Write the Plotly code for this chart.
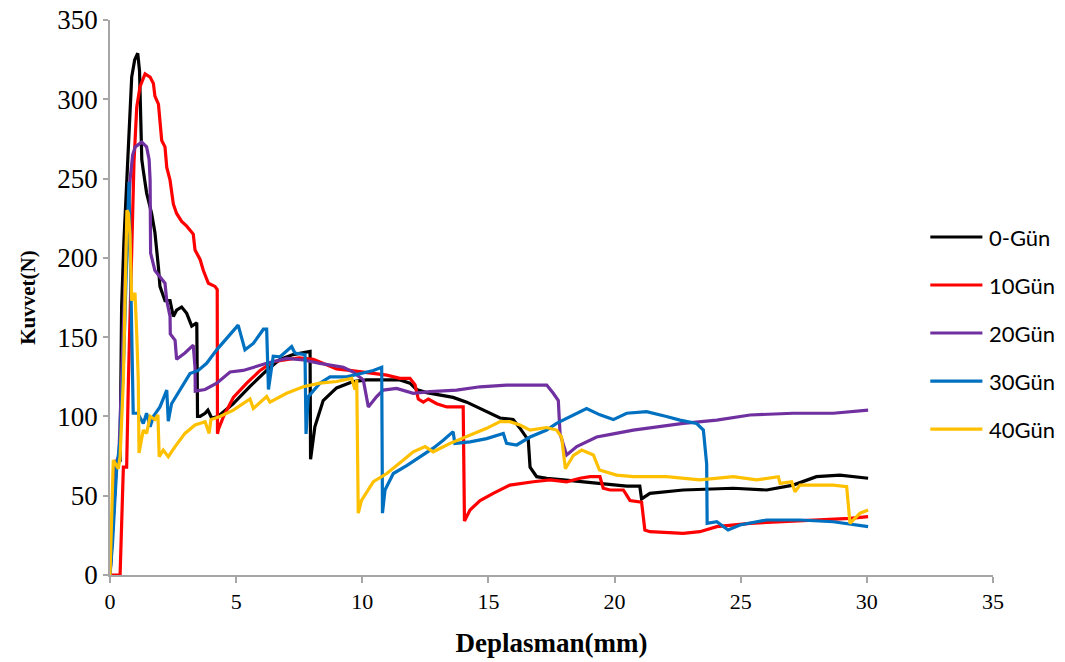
import plotly.graph_objects as go

# Data: (Deplasman mm, Kuvvet N)
gun0 = [(0,0),(0.15,40),(0.25,70),(0.4,72),(0.46,169),(0.55,210),(0.66,245),(0.76,285),(0.86,314),(0.98,325),
        (1.1,329),(1.17,318),(1.22,290),(1.26,262),(1.32,255),(1.39,245),(1.45,241),(1.65,228),(1.78,216),
        (1.92,194),(1.98,182),(2.18,173),(2.38,173),(2.51,163),(2.64,167),(2.84,169),(3.04,165),(3.24,157),
        (3.44,159),(3.47,100),(3.57,100),(3.77,102),(3.88,104),(4.03,99),(4.28,100),(4.88,108),(5.55,119),
        (6.21,129),(6.74,136),(7.26,139),(7.93,141),(7.95,73),(8.12,93.5),(8.45,110),(8.98,118),(9.64,122),
        (10.17,123),(10.97,123),(11.49,123),(11.89,121),(12.15,117),(12.55,115),(13.6,112),(14.14,109),
        (14.53,106),(15.19,101),(15.46,99),(15.98,98),(16.25,92.6),(16.58,85),(16.65,68),(16.91,62),
        (17.31,61),(17.97,60),(18.63,59),(19.29,58),(19.95,57),(20.48,56),(21.0,56),(21.07,48),(21.4,51.5),
        (22.72,53.6),(24.7,54.7),(26.03,53.6),(27.08,56.7),(28.0,62),(28.93,63),(30.05,61)]

gun10 = [(0,0),(0.13,0),(0.4,0),(0.53,68),(0.66,68),(0.73,123),(0.86,211),(0.95,260),(1.06,295),(1.19,308),
         (1.39,316),(1.59,314),(1.72,310),(1.78,302),(1.92,297),(1.98,287),(2.05,274),(2.18,270),(2.25,257),
         (2.38,249),(2.51,234),(2.64,228),(2.84,223),(3.04,220),(3.3,215),(3.37,205),(3.57,199),(3.7,192),
         (3.9,184),(4.16,182),(4.25,180),(4.26,89),(4.3,92),(4.5,100),(4.89,112),(5.42,121),(5.95,129),
         (6.47,134.5),(7.0,136),(7.5,137),(8.06,136),(8.5,133),(8.98,130),(9.5,129),(10.04,128),(10.97,126),
         (11.49,124),(11.89,124),(12.09,120),(12.22,111),(12.42,109),(12.62,111),(12.95,108),(13.35,106),
         (14.0,106),(14.05,34),(14.27,41),(14.67,47),(15.19,51.5),(15.85,56.7),(16.78,58.8),(17.44,60),
         (18.1,58.8),(18.63,61),(19.03,62),(19.42,62),(19.55,54.7),(19.82,53.6),(20.35,53.6),(20.61,47),
         (21.07,46),(21.2,28.4),(21.4,27.3),(22.72,26.3),(23.38,27.3),(24.05,30.5),(25.37,32.6),(26.69,33.6),
         (28.0,34.7),(29.33,35.7),(30.05,36.8)]

gun20 = [(0,0),(0.1,30),(0.26,72),(0.35,75),(0.5,140),(0.65,210),(0.8,250),(0.9,265),(1.0,270),(1.26,273),
         (1.45,270),(1.55,262),(1.59,249),(1.6,211),(1.61,203),(1.78,192),(1.98,188),(2.18,184),(2.25,173),
         (2.38,163),(2.39,152),(2.58,148),(2.64,136),(2.97,140),(3.3,145),(3.37,131),(3.38,116),(3.77,117),
         (4.23,121),(4.76,128),(5.28,129),(5.68,131),(6.21,133.5),(7.0,136.6),(7.66,135.6),(8.32,133.5),
         (9.25,131),(9.64,128),(10.04,123),(10.24,106),(10.57,112.5),(10.83,116.6),(11.36,117.7),(12.02,114.6),
         (12.68,115.6),(13.74,116.6),(14.67,118.7),(15.72,119.8),(17.31,119.8),(17.57,114.6),(17.77,110),
         (17.84,89),(18.1,75.7),(18.5,81),(19.29,87),(19.95,89),(20.74,91.4),(22.72,95.6),(24.05,97.7),
         (25.37,100.9),(27.08,102),(28.67,102),(30.05,104)]

gun30 = [(0,0),(0.1,20),(0.26,66),(0.4,85),(0.55,140),(0.65,200),(0.75,248),(0.8,205),(0.86,140),(0.92,102),
         (1.1,102),(1.32,95.6),(1.45,102),(1.59,93.5),(1.72,100),(1.98,106),(2.25,116.6),(2.31,97),(2.44,108),
         (2.77,116.6),(3.17,127),(3.5,129),(3.83,133.5),(4.23,142),(4.62,149),(5.08,157.6),(5.35,142),
         (5.68,146),(6.08,155),(6.21,155),(6.28,117),(6.47,138),(6.74,137.6),(7.2,144),(7.33,140),(7.73,139),
         (7.77,89),(7.86,112.5),(8.32,121),(8.72,125),(9.38,125),(9.91,127),(10.44,129),(10.77,131),(10.8,39),
         (10.9,53.6),(11.23,64),(11.76,69),(12.29,74.6),(12.81,80),(13.21,85),(13.6,90.4),(13.67,83),
         (14.27,84),(14.93,86),(15.59,89.3),(15.72,83),(16.12,82),(16.65,87),(17.31,91.4),(17.7,95.6),
         (18.5,102),(18.89,105),(19.42,101),(19.95,98),(20.48,102),(21.27,103),(22.06,100),(22.59,97.7),
         (23.25,95.6),(23.52,91.4),(23.65,70),(23.67,32.6),(24.05,33.6),(24.5,28.4),(24.97,31.5),(26.03,34.7),
         (27.35,34.7),(28.67,33.6),(30.05,30.5)]

gun40 = [(0,0),(0.13,72.5),(0.33,67),(0.4,74.6),(0.53,123),(0.59,173),(0.67,230),(0.73,228),(0.79,215),
         (0.86,173),(0.99,178),(1.06,152),(1.12,123),(1.15,77),(1.32,91.4),(1.45,89.3),(1.59,100),(1.78,98),
         (1.9,101),(1.95,74.6),(2.11,78.8),(2.31,74.6),(2.58,81),(2.97,89.3),(3.37,94.6),(3.77,96.7),
         (3.93,89.3),(4.0,98),(4.36,100),(4.89,104),(5.55,111),(5.68,105),(6.21,112.5),(6.34,109),(7.0,114.6),
         (7.66,118.7),(8.32,121),(8.98,122),(9.58,124),(9.71,117),(9.78,123),(9.84,39),(9.97,47),(10.44,58.8),
         (10.97,64),(11.63,72.5),(12.02,77.7),(12.49,81),(12.81,77.7),(13.48,83),(14.27,88.3),(14.93,92.5),
         (15.46,96.7),(15.85,96.7),(16.25,94.6),(16.65,91.4),(17.31,93),(17.7,91.4),(17.9,87),(18.05,67),
         (18.37,75.5),(18.7,78.8),(19.16,75.7),(19.4,66.2),(20.08,63),(20.74,62),(22.06,62),(23.38,60),
         (24.71,62),(25.63,60),(26.49,62),(26.56,57.8),(27.02,58.8),(27.15,52.5),(27.35,56.7),(28.67,56.7),
         (29.2,55.7),(29.33,32.6),(29.73,39),(30.05,41)]

series_names = ["0-Gün", "10Gün", "20Gün", "30Gün", "40Gün"]
series_data = [gun0, gun10, gun20, gun30, gun40]
series_colors = ["#000000", "#FF0000", "#7030A0", "#0070C0", "#FFC000"]

x_ticks = [0, 5, 10, 15, 20, 25, 30, 35]
y_ticks = [0, 50, 100, 150, 200, 250, 300, 350]

fig = go.Figure()
for name, pts, col in zip(series_names, series_data, series_colors):
    xs = [p[0] for p in pts]
    ys = [p[1] for p in pts]
    fig.add_trace(go.Scatter(x=xs, y=ys, mode="lines", name=name,
                             line=dict(color=col, width=3.2)))

# Legend drawn as paper-positioned line samples + text (kept inside the figure, no margin push)
leg_top = 0.609
leg_step = 0.0865
shapes = []
annotations = []
for i, (name, col) in enumerate(zip(series_names, series_colors)):
    yy = leg_top - i * leg_step
    shapes.append(dict(type="line", xref="paper", yref="paper", x0=0.929, x1=0.988, y0=yy, y1=yy,
                       line=dict(color=col, width=3.2)))
    annotations.append(dict(xref="paper", yref="paper", x=0.993, y=yy, xanchor="left", yanchor="middle",
                            text=name, showarrow=False,
                            font=dict(family="Lato, Carlito, sans-serif", size=22, color="black")))

axis_col = "#A6A6A6"
serif = "Liberation Serif, Times New Roman, serif"
fig.update_layout(
    width=1065, height=662,
    margin=dict(l=110, r=72, t=20, b=87, autoexpand=False),
    paper_bgcolor="white", plot_bgcolor="white",
    showlegend=False,
    shapes=shapes, annotations=annotations,
    xaxis=dict(range=[0, 35], tickvals=x_ticks, showgrid=False, zeroline=False, automargin=False,
               showline=True, linecolor=axis_col, linewidth=1.5,
               ticks="outside", ticklen=6, tickcolor=axis_col, tickwidth=1.5,
               tickfont=dict(family=serif, size=22, color="black"),
               title=dict(text="<b>Deplasman(mm)</b>", standoff=20,
                          font=dict(family=serif, size=27, color="black"))),
    yaxis=dict(range=[0, 350], tickvals=y_ticks, showgrid=False, zeroline=False, automargin=False,
               showline=True, linecolor=axis_col, linewidth=1.5,
               ticks="outside", ticklen=5, tickcolor=axis_col, tickwidth=1.5,
               tickfont=dict(family=serif, size=27, color="black"),
               title=dict(text="<b>Kuvvet(N)</b>", standoff=16,
                          font=dict(family=serif, size=21, color="black"))),
)

fig.write_html("out.html")
